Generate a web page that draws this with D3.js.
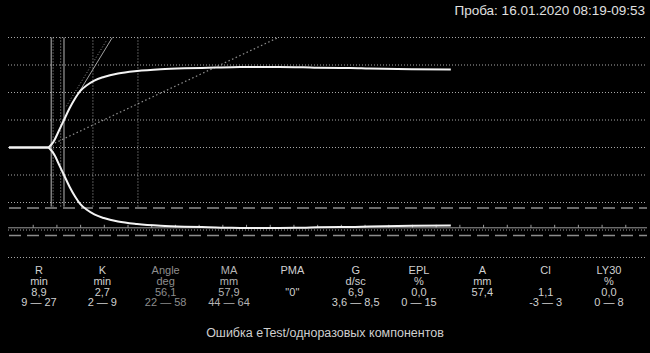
<!DOCTYPE html>
<html>
<head>
<meta charset="utf-8">
<script src="https://cdn.jsdelivr.net/npm/d3@7"></script>
<style>
  body { margin: 0; background: #000; }
  svg { display: block; background: #000; }
  text { font-family: "Liberation Sans", Arial, sans-serif; }
</style>
</head>
<body>
<svg id="chart" width="650" height="353"></svg>
<script>
// trace: time (min) vs amplitude (mm)
const times = [0, 8.2, 8.9, 9.6, 10.5, 11.6, 12.8, 14, 15, 16.5, 18, 20, 23, 27, 32, 37, 42, 47, 52, 57, 62, 65, 72, 76, 85, 93.2];
const amplitude = [0, 0, 2, 5.5, 12, 20, 28.7, 36, 41, 45.5, 48.7, 51.3, 53.8, 55.6, 56.9, 57.6, 58.0, 58.4, 58.5, 58.5, 58.4, 58.0, 57.8, 57.4, 56.9, 56.7];

const gridAmps = [0, 20, 40, 60, 80];
const maRange = [44, 64];
const solidMarks = [8.9, 11.6];
const dottedMarks = [9.3, 10.9, 17.7, 27.2];
const tangentSolid = [[14.8, 40.4], [21.8, 80]];
const tangentDotted = [[12.1, 30], [20.6, 78]];
const angleLine = [[8.9, 2], [56.8, 80]];
const tickTimes = d3.range(5, 131, 5);

const names = ["R", "K", "Angle", "MA", "PMA", "G", "EPL", "A", "CI", "LY30"];
const units = ["min", "min", "deg", "mm", "", "d/sc", "%", "mm", "", "%"];
const values = ["8,9", "2,7", "56,1", "57,9", "\"0\"", "6,9", "0,0", "57,4", "1,1", "0,0"];
const ranges = ["9 — 27", "2 — 9", "22 — 58", "44 — 64", "", "3,6 — 8,5", "0 — 15", "", "-3 — 3", "0 — 8"];

const title = "Проба: 16.01.2020 08:19-09:53";
const message = "Ошибка eTest/одноразовых компонентов";

var svg = d3.select("#chart");

const x = d3.scaleLinear().domain([0, 135]).range([9, 649]);
const yUp = d3.scaleLinear().domain([0, 80]).range([147.5, 37.5]);
const yLo = d3.scaleLinear().domain([0, 80]).range([147.5, 257.5]);
const xLeft = 8, xRight = 647;

// horizontal dotted grid, both halves
let gridYs = [];
gridAmps.forEach(a => { gridYs.push(yUp(a)); if (a > 0) gridYs.push(yLo(a)); });
svg.selectAll(".grid")
	.data(gridYs)
	.enter()
	.append("line")
	.attr("class", "grid")
	.attr("x1", xLeft).attr("x2", xRight)
	.attr("y1", d => d).attr("y2", d => d)
	.attr("stroke", "#a8a8a8")
	.attr("stroke-width", 1)
	.attr("stroke-dasharray", "1,2");

// MA reference range (dashed)
svg.selectAll(".ma-ref")
	.data(maRange)
	.enter()
	.append("line")
	.attr("x1", xLeft + 1).attr("x2", xRight)
	.attr("y1", d => yLo(d)).attr("y2", d => yLo(d))
	.attr("stroke", "#8c8c8c")
	.attr("stroke-width", 1.6)
	.attr("stroke-dasharray", "12,6");

// time axis on lower side
const axis = svg.append("g")
	.attr("transform", `translate(0,${yLo(58.4)})`)
	.call(d3.axisTop(x).tickValues(tickTimes).tickSize(3).tickFormat(""));
axis.select(".domain").remove();
axis.selectAll(".tick line").attr("stroke", "#9a9a9a");
svg.append("line")
	.attr("x1", xLeft).attr("x2", xRight)
	.attr("y1", yLo(58.4)).attr("y2", yLo(58.4))
	.attr("stroke", "#9a9a9a")
	.attr("stroke-width", 1);

// vertical markers
svg.selectAll(".vsolid")
	.data(solidMarks)
	.enter()
	.append("line")
	.attr("x1", d => x(d)).attr("x2", d => x(d))
	.attr("y1", yUp(80)).attr("y2", yLo(43))
	.attr("stroke", "#b8b8b8")
	.attr("stroke-width", 1);
svg.selectAll(".vdot")
	.data(dottedMarks)
	.enter()
	.append("line")
	.attr("x1", d => x(d)).attr("x2", d => x(d))
	.attr("y1", yUp(80)).attr("y2", yLo(43))
	.attr("stroke", "#a8a8a8")
	.attr("stroke-width", 1)
	.attr("stroke-dasharray", "1,2");

// tangent and angle lines
const seg = d3.line().x(d => x(d[0])).y(d => yUp(d[1]));
svg.append("path").attr("d", seg(tangentSolid))
	.attr("fill", "none").attr("stroke", "#a0a0a0").attr("stroke-width", 1);
svg.append("path").attr("d", seg(tangentDotted))
	.attr("fill", "none").attr("stroke", "#909090").attr("stroke-width", 1)
	.attr("stroke-dasharray", "1,2");
svg.append("path").attr("d", seg(angleLine))
	.attr("fill", "none").attr("stroke", "#909090").attr("stroke-width", 1.2)
	.attr("stroke-dasharray", "1.5,2.5");

// trace
const trace = times.map((t, i) => ({ t: t, a: amplitude[i] }));
const upper = d3.line().x(d => x(d.t)).y(d => yUp(d.a)).curve(d3.curveMonotoneX);
const lower = d3.line().x(d => x(d.t)).y(d => yLo(d.a)).curve(d3.curveMonotoneX);
svg.append("path").attr("d", upper(trace))
	.attr("fill", "none").attr("stroke", "#f4f4f4").attr("stroke-width", 2);
svg.append("path").attr("d", lower(trace))
	.attr("fill", "none").attr("stroke", "#f4f4f4").attr("stroke-width", 2);

// title
svg.append("text")
	.attr("x", 645).attr("y", 15)
	.attr("text-anchor", "end")
	.attr("font-size", 13.5)
	.attr("fill", "#e0e0e0")
	.text(title);

// parameter table
const col = d3.scalePoint().domain(names).range([39, 609]);
const dimCols = { "Angle": "#8e8e8e", "MA": "#b4b4b4" };
const rows = [names, units, values, ranges];
rows.forEach((row, r) => {
	svg.selectAll(".row" + r)
		.data(row)
		.enter()
		.append("text")
		.attr("x", (d, i) => col(names[i]))
		.attr("y", 274 + r * 10.8)
		.attr("text-anchor", "middle")
		.attr("font-size", 11)
		.attr("fill", (d, i) => dimCols[names[i]] || "#d0d0d0")
		.text(d => d);
});

svg.append("text")
	.attr("x", 325).attr("y", 337)
	.attr("text-anchor", "middle")
	.attr("font-size", 12.5)
	.attr("fill", "#cfcfcf")
	.text(message);
</script>
</body>
</html>
